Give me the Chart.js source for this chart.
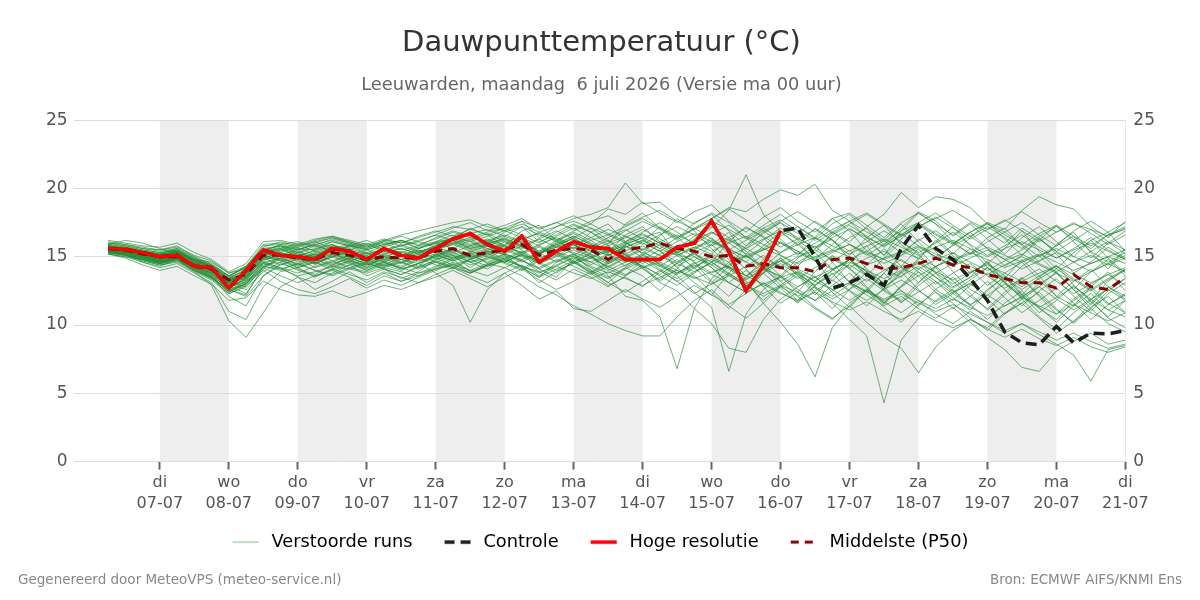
<!DOCTYPE html>
<html>
<head>
<meta charset="utf-8">
<script src="https://cdn.jsdelivr.net/npm/chart.js@4.4.1/dist/chart.umd.min.js"></script>
<style>
body{margin:0;background:#fff;}
</style>
</head>
<body>
<canvas id="plume" width="1200" height="600"></canvas>
<script>
// hours after maandag 6 juli 00:00
const hours = [6,12,18,24,30,36,42,48,54,60,66,72,78,84,90,96,102,108,114,120,126,132,138,144,150,156,162,168,174,180,
  186,192,198,204,210,216,222,228,234,240,246,252,258,264,270,276,282,288,294,300,306,312,318,324,330,336,342,348,354,360];

const dayTicks = [24,48,72,96,120,144,168,192,216,240,264,288,312,336,360];
const dayNames = ["di","wo","do","vr","za","zo","ma","di","wo","do","vr","za","zo","ma","di"];
const dayDates = ["07-07","08-07","09-07","10-07","11-07","12-07","13-07","14-07","15-07","16-07","17-07","18-07","19-07","20-07","21-07"];
const shadedDays = [24,72,120,168,216,264,312];
const yTicks = [0,5,10,15,20,25];

const hiRes = [15.6,15.55,15.3,15.0,15.1,14.3,14.2,12.7,14.0,15.5,15.1,15.0,14.8,15.6,15.4,14.8,15.6,15.1,14.9,15.6,
  16.3,16.7,15.9,15.4,16.5,14.6,15.4,16.1,15.7,15.6,14.8,14.8,14.8,15.7,16.0,17.6,15.4,12.5,14.3,16.9];

const control = [15.6,15.55,15.3,15.0,15.1,14.3,14.2,12.7,14.0,15.5,15.1,15.0,14.8,15.6,15.4,14.8,15.6,15.1,14.9,15.6,
  16.3,16.7,15.9,15.4,16.5,14.6,15.4,16.1,15.7,15.6,14.8,14.8,14.8,15.7,16.0,17.6,15.4,12.5,14.3,16.9,
  17.1,15.0,12.7,13.1,13.7,12.9,15.6,17.3,15.6,14.8,13.4,11.8,9.5,8.7,8.55,9.9,8.7,9.4,9.35,9.6];

const p50 = [15.6,15.5,15.2,15.0,15.0,14.3,14.1,13.3,13.7,15.1,15.1,14.9,14.8,15.3,15.1,14.8,15.0,14.9,14.9,15.4,
  15.6,15.1,15.3,15.5,15.9,15.1,15.5,15.6,15.5,14.8,15.5,15.7,16.0,15.6,15.4,15.0,15.1,14.3,14.5,14.2,
  14.2,13.9,14.8,14.9,14.5,14.1,14.2,14.5,14.9,14.4,14.2,13.7,13.4,13.1,13.1,12.7,13.7,12.8,12.6,13.5];

const members = [
  [15.8,15.6,15.3,15.1,15.4,14.6,14.0,13.2,13.9,15.3,15.6,15.2,15.0,15.8,15.5,15.1,15.6,15.3,15.0,15.8,16.4,16.1,15.6,15.9,16.6,15.2,15.9,16.3,15.4,14.6,15.9,16.4,16.8,15.2,14.7,15.9,16.8,15.1,14.2,15.3,16.1,14.7,13.2,14.5,15.8,14.1,13.5,14.9,16.2,15.1,13.8,14.6,13.1,12.2,13.5,14.4,12.9,11.8,13.2,14.1],
  [15.4,15.2,14.8,14.5,14.9,14.1,13.5,12.4,13.1,14.6,14.2,13.5,13.1,13.8,14.4,13.6,14.1,13.4,13.9,14.8,15.1,14.2,15.0,14.6,15.2,14.1,13.5,14.8,15.6,16.2,15.1,14.3,13.2,14.1,15.5,16.4,15.2,14.1,12.8,13.6,14.9,15.8,14.6,13.1,12.4,13.8,15.1,16.3,15.4,13.9,12.6,11.9,13.4,14.8,13.6,12.1,11.4,12.8,13.9,12.5],
  [16.1,15.9,15.6,15.5,15.8,15.0,14.4,13.6,14.2,15.8,15.9,15.6,15.5,16.1,15.8,15.6,16.0,15.5,15.8,16.4,16.9,16.5,16.0,16.8,17.2,16.1,16.6,17.3,16.8,15.9,17.4,18.2,17.1,16.3,17.5,18.1,16.9,15.8,16.7,17.5,16.2,15.3,16.8,17.6,16.4,15.1,16.9,18.2,17.4,16.1,15.2,16.4,17.1,15.8,14.6,15.9,16.8,15.3,14.1,15.6],
  [15.2,15.0,14.6,14.2,14.5,13.8,13.1,11.0,10.4,12.8,13.9,14.2,13.5,14.1,14.6,14.0,14.5,14.2,13.8,14.3,14.9,15.3,14.5,15.1,14.2,13.5,14.6,15.2,14.0,13.1,14.2,13.6,12.5,13.8,14.6,13.2,12.1,13.5,14.8,13.6,12.4,13.9,15.1,14.2,12.8,11.6,12.9,14.1,13.2,12.0,11.1,12.5,13.6,12.3,11.2,10.4,11.8,12.6,11.5,12.2],
  [15.9,16.2,16.0,15.6,15.3,14.8,14.6,13.8,14.1,15.2,15.4,15.8,16.1,15.6,15.9,15.3,15.8,16.2,15.6,16.1,16.3,17.1,16.6,15.8,16.9,17.3,16.2,15.6,16.8,17.4,16.1,15.2,16.5,17.8,16.9,15.6,14.2,15.8,17.1,16.3,15.1,16.4,17.8,16.9,15.4,16.2,17.4,16.1,14.8,15.9,16.8,15.6,14.3,15.1,16.4,15.2,13.8,14.6,15.7,14.9],
  [15.5,15.3,15.0,14.8,15.2,14.4,13.9,12.9,12.3,14.1,15.1,15.6,14.4,15.2,14.8,14.2,15.1,14.8,14.3,15.2,15.6,14.9,15.4,16.1,15.5,14.6,15.2,15.9,15.1,14.1,13.6,14.8,15.5,14.2,13.1,12.2,13.8,15.1,14.3,12.9,11.8,13.2,14.6,15.5,14.1,13.0,14.3,15.6,14.2,12.8,13.5,14.7,13.2,11.9,12.8,13.9,12.6,11.2,12.5,13.4],
  [15.7,15.5,15.4,15.2,15.6,14.9,14.2,13.4,13.8,15.5,15.8,15.3,15.6,15.9,15.4,15.0,15.4,15.6,15.2,15.9,16.2,15.6,15.9,16.4,15.8,15.1,16.1,16.8,16.2,15.3,16.6,17.2,16.1,15.4,16.3,17.1,18.4,21.0,18.1,16.9,15.8,17.1,16.2,15.1,16.4,17.3,15.9,14.8,16.1,17.2,15.8,14.5,15.6,16.9,15.4,14.1,15.3,16.2,14.9,13.8],
  [15.3,15.4,15.1,14.6,14.9,14.2,13.6,12.1,11.4,13.6,14.5,14.1,13.7,14.4,14.9,14.5,14.2,14.6,14.9,14.4,14.1,14.8,15.3,14.6,14.1,14.9,15.4,14.7,13.8,14.5,15.2,14.1,13.3,14.6,15.3,14.2,13.1,12.4,13.8,14.9,13.6,12.2,13.5,14.8,13.9,12.6,11.8,13.1,14.3,13.2,12.1,11.2,12.4,13.5,12.2,11.1,10.2,11.6,12.8,11.9],
  [16.0,15.8,15.5,15.3,15.5,14.7,14.3,13.5,14.3,15.6,15.2,14.8,15.3,15.7,15.2,14.6,15.3,15.0,15.4,15.6,15.9,16.3,15.4,15.2,15.8,16.3,15.7,16.4,17.1,16.2,15.4,16.1,17.2,16.5,15.2,14.6,16.1,17.2,16.4,15.1,14.3,15.6,16.3,14.8,13.6,14.9,16.1,15.2,13.8,14.5,15.6,14.2,13.1,14.3,15.1,13.8,12.6,13.9,14.8,13.6],
  [15.6,15.7,15.4,15.2,15.1,14.5,14.1,13.0,12.6,13.9,14.6,15.0,14.6,14.2,14.7,15.1,14.6,14.1,14.5,15.0,15.4,14.6,14.9,15.5,16.1,15.3,14.6,15.1,15.8,15.2,14.3,15.1,15.9,15.3,14.1,15.2,16.3,15.4,14.2,13.5,14.6,15.3,14.1,13.2,14.4,15.6,14.3,13.1,14.2,15.3,14.1,12.9,13.8,14.6,13.3,12.1,13.2,14.1,12.8,12.1],
  [15.3,15.1,14.6,14.3,14.8,13.9,12.9,10.3,9.1,10.9,12.8,13.5,12.6,13.2,13.9,13.1,13.8,13.2,13.6,14.2,14.8,13.9,14.4,15.0,14.3,13.1,13.9,14.6,13.8,12.9,13.5,12.8,13.9,14.8,13.6,12.4,11.2,12.6,13.8,12.7,11.6,12.9,13.8,12.5,11.4,12.7,13.9,12.6,11.5,12.3,13.1,11.9,10.8,11.6,12.4,11.2,10.1,11.3,12.1,10.9],
  [16.2,16.0,15.8,15.7,16.0,15.3,14.8,13.9,14.5,16.1,16.2,15.9,16.3,16.5,16.1,15.8,16.2,16.0,16.4,16.8,17.2,17.0,16.6,17.1,17.6,16.4,17.2,17.8,18.1,18.6,20.4,18.9,19.0,18.0,17.4,18.2,17.5,16.4,17.3,18.1,17.2,16.3,17.4,18.1,17.0,15.9,17.1,18.3,17.6,16.5,17.4,16.3,15.2,16.4,17.2,16.1,15.0,16.2,16.8,15.4],
  [15.5,15.3,15.0,14.7,15.0,14.2,13.8,12.8,13.2,14.8,15.0,14.4,14.9,15.3,14.8,14.3,14.9,14.6,14.2,14.8,15.2,14.6,14.1,14.9,15.4,14.5,13.8,14.6,15.2,13.6,12.1,11.8,10.6,6.8,11.2,13.4,14.6,13.1,11.8,12.9,13.8,12.4,11.2,12.6,13.9,12.8,11.6,12.9,13.8,12.5,11.4,12.6,13.5,12.2,10.9,11.8,12.9,11.7,10.6,11.8],
  [15.4,15.2,14.7,14.4,14.6,13.9,13.3,12.3,12.9,14.3,14.1,13.6,13.9,14.3,14.1,13.8,14.2,13.9,13.6,14.1,14.4,14.0,14.5,14.2,13.6,12.8,12.2,11.4,10.8,10.1,9.6,9.2,9.2,10.6,11.8,12.6,11.4,10.5,11.6,12.8,12.1,11.2,10.4,11.6,12.5,11.3,10.2,11.5,12.4,11.6,10.5,9.6,10.8,11.9,10.6,9.7,10.9,11.8,10.5,9.8],
  [15.6,15.4,15.1,14.9,15.3,14.6,14.0,13.1,13.6,15.2,15.3,14.7,15.1,15.6,15.0,14.4,15.0,14.8,14.5,15.1,15.6,15.1,15.5,15.8,15.3,14.5,15.1,15.7,15.0,14.2,14.9,15.5,14.4,13.6,12.4,11.3,6.6,10.8,12.6,13.5,12.6,11.8,12.9,13.8,12.7,11.6,12.8,13.6,12.4,11.2,12.1,13.2,12.0,10.9,11.8,12.7,11.6,10.4,11.5,12.3],
  [15.2,15.0,14.8,14.6,14.9,14.0,13.4,12.6,12.1,13.6,14.4,14.9,14.2,14.6,15.1,14.7,14.3,14.8,15.2,14.6,14.2,14.8,15.2,14.5,14.0,14.7,15.3,14.6,13.9,14.6,15.3,14.2,13.1,12.5,11.2,10.1,8.3,8.0,10.4,11.9,12.8,13.6,12.4,11.3,12.6,13.8,12.5,11.4,12.6,13.5,12.3,11.1,12.2,13.4,12.1,10.8,11.9,12.8,11.6,10.9],
  [15.7,15.5,15.2,15.0,15.2,14.5,14.1,13.2,13.7,15.1,14.8,14.3,14.7,15.1,14.6,14.1,14.7,14.3,14.9,15.4,14.8,15.3,15.8,15.1,14.6,15.3,15.9,15.2,14.4,15.1,15.8,14.9,14.3,15.1,14.2,13.1,14.3,13.2,11.6,10.2,8.6,6.2,9.8,11.4,12.6,11.5,12.8,13.9,12.6,11.8,12.9,13.8,12.6,11.4,12.5,13.4,12.1,11.0,12.3,13.1],
  [15.5,15.6,15.3,15.1,15.3,14.7,14.2,13.3,13.4,14.9,15.3,15.7,15.1,15.4,15.8,15.2,15.5,15.9,15.4,15.7,16.1,15.6,16.0,16.3,15.7,15.2,15.8,16.4,15.6,15.1,15.7,16.2,15.4,14.6,15.3,15.9,14.8,13.6,14.5,13.2,12.1,12.8,11.6,10.4,9.2,4.3,8.9,10.5,11.8,12.6,11.5,10.4,11.6,12.5,11.3,10.2,11.4,12.3,11.1,10.6],
  [15.4,15.3,15.0,14.7,15.0,14.3,13.8,12.9,13.3,14.7,15.2,14.9,14.5,15.0,15.3,14.9,14.4,15.0,15.4,14.9,15.3,14.8,15.2,15.6,15.1,14.8,15.4,15.9,15.2,14.6,15.2,15.8,15.1,14.3,15.0,14.2,13.1,14.0,12.8,11.6,12.4,11.3,10.5,11.4,10.2,9.1,8.3,6.5,8.4,9.6,10.4,9.8,10.9,11.6,10.5,9.4,10.3,11.2,10.1,9.5],
  [15.6,15.4,15.1,14.8,15.1,14.4,14.0,13.0,13.5,15.0,14.7,15.2,14.8,14.4,14.9,15.3,14.8,14.5,15.0,15.4,14.9,15.4,15.0,14.6,15.2,15.7,15.1,14.5,15.0,15.5,14.8,14.2,14.8,15.4,14.6,13.8,14.4,15.1,14.1,13.2,13.9,12.8,12.1,13.0,12.2,11.4,12.1,11.2,10.5,11.3,10.2,9.1,8.2,6.9,6.6,8.1,8.8,9.4,8.6,8.9],
  [15.5,15.3,14.9,14.6,14.9,14.2,13.7,12.7,13.4,14.6,14.9,15.3,14.9,15.2,14.7,14.4,14.8,15.2,14.7,15.0,15.5,14.9,15.3,15.8,15.2,14.7,15.3,15.0,14.6,15.2,14.6,15.2,14.4,13.8,14.5,15.1,14.2,13.4,14.1,13.6,12.8,13.5,12.6,11.8,12.6,11.7,10.9,11.8,10.8,10.1,11.0,10.2,9.4,10.1,9.3,8.6,7.8,5.9,8.2,8.5],
  [15.8,15.7,15.5,15.3,15.5,14.9,14.4,13.5,14.0,15.4,15.6,16.0,15.7,16.1,15.8,15.5,15.9,16.2,15.8,16.1,16.6,16.1,16.5,16.9,16.4,15.8,16.5,17.1,16.4,15.8,16.4,17.0,16.3,15.6,16.5,17.2,16.4,15.6,16.8,17.5,16.7,17.6,16.8,16.1,17.2,18.1,19.7,18.6,19.4,19.2,18.6,17.4,16.8,17.5,16.6,15.8,16.9,17.6,16.8,17.5],
  [15.6,15.5,15.3,15.1,15.4,14.8,14.3,13.4,14.0,15.3,15.5,15.1,15.4,15.8,15.6,15.2,15.6,15.3,15.7,16.0,16.3,15.8,16.2,16.6,16.1,15.4,16.2,16.7,16.0,15.5,16.1,16.7,16.0,15.3,16.1,16.8,16.0,15.2,16.2,17.1,16.4,15.6,16.6,17.3,16.5,15.7,16.6,17.4,16.6,15.9,16.8,17.5,17.0,18.4,19.4,18.8,18.5,17.2,16.4,17.6],
  [15.7,15.6,15.4,15.2,15.5,14.8,14.4,13.6,14.2,15.6,15.8,15.5,15.9,16.2,15.9,15.5,15.9,16.2,15.9,16.3,16.8,16.4,16.8,17.1,16.6,16.0,16.8,17.4,16.8,16.1,16.9,17.6,17.0,16.2,17.1,17.8,18.6,18.3,19.2,19.9,19.5,20.3,18.4,17.6,18.2,17.4,16.6,17.5,18.2,17.3,16.5,17.2,16.4,15.6,16.5,17.2,16.3,15.6,16.6,17.0],
  [16.0,15.9,15.7,15.5,15.7,15.1,14.7,13.8,14.3,15.9,16.0,15.7,16.1,16.4,16.1,15.7,16.1,16.5,16.1,16.6,17.1,17.5,16.9,17.3,17.8,17.0,17.5,18.0,17.4,18.5,18.1,19.0,18.2,17.5,18.3,18.8,17.6,16.8,17.9,18.6,17.6,16.8,17.8,18.2,17.3,16.4,17.5,18.2,17.4,16.6,17.5,16.8,16.0,17.1,16.3,15.4,16.2,17.0,16.1,15.5],
  [15.3,15.1,14.8,14.5,14.7,14.0,13.4,12.3,12.8,14.2,13.6,13.1,13.6,14.0,13.5,12.9,13.6,13.2,13.8,14.1,14.6,14.0,13.6,14.2,14.8,13.9,13.3,14.1,13.5,12.8,13.6,14.4,13.6,12.9,13.8,14.6,13.7,12.8,13.9,14.7,13.8,12.9,14.0,14.8,13.7,12.6,13.8,14.6,13.5,12.4,13.3,14.2,13.1,12.0,13.0,13.8,12.6,11.5,12.7,13.4],
  [15.9,15.7,15.4,15.1,15.3,14.7,14.3,13.3,13.9,15.4,15.9,16.1,15.8,16.3,16.0,15.6,16.1,15.8,16.2,16.6,16.2,16.7,17.0,16.5,17.2,16.6,16.2,16.9,17.4,16.7,16.1,16.8,17.5,16.8,15.9,16.7,17.3,16.4,15.6,16.5,17.2,16.4,15.5,16.4,17.1,16.2,15.3,16.2,16.9,16.0,15.2,16.1,16.8,15.9,15.0,15.8,16.5,15.4,14.6,15.3],
  [15.4,15.2,14.9,14.7,14.9,14.3,13.7,12.6,12.2,14.3,14.8,14.2,14.6,14.0,14.4,14.8,14.3,14.6,14.1,14.6,15.0,14.4,14.8,15.2,14.7,14.2,14.8,14.3,13.7,14.3,14.9,14.3,13.7,14.5,15.2,14.4,13.6,14.3,15.1,14.2,13.4,14.2,15.0,14.1,13.2,14.0,14.8,13.9,13.0,13.8,14.5,13.6,12.7,13.4,14.1,13.2,12.3,13.0,13.7,12.9],
  [15.6,15.5,15.2,14.9,15.2,14.5,14.0,13.1,13.6,15.3,15.1,15.5,15.9,15.4,15.7,16.0,15.5,15.8,16.1,15.7,16.0,16.4,16.0,15.6,16.2,16.8,16.3,15.8,16.4,17.0,16.5,15.9,16.6,17.2,16.6,15.8,16.4,17.1,16.5,15.7,16.3,17.0,16.2,15.4,16.1,16.9,16.1,15.3,16.0,16.8,15.9,15.1,15.8,16.6,15.7,14.9,15.6,16.4,15.5,14.8],
  [15.2,14.9,14.4,14.0,14.3,13.6,13.0,11.8,12.0,13.2,12.6,12.2,12.1,12.5,12.0,12.4,12.9,12.6,13.1,13.5,14.0,13.4,12.8,13.5,14.1,13.3,12.6,13.2,13.9,13.1,12.4,13.2,14.0,13.2,12.3,13.0,13.8,12.9,12.1,12.8,13.6,12.7,11.9,12.6,13.4,12.5,11.7,12.4,13.2,12.3,11.5,12.2,13.0,12.1,11.3,12.0,12.8,11.9,11.1,11.8],
  [15.5,15.3,15.0,14.7,15.0,14.3,13.8,12.8,13.3,14.6,14.2,13.8,14.3,14.7,14.2,13.9,14.4,14.0,14.5,13.8,12.9,10.2,12.6,13.8,14.4,13.6,14.3,15.0,14.2,13.5,14.2,14.9,14.1,13.4,14.2,15.0,14.1,13.3,14.1,14.9,14.0,13.2,14.0,14.8,13.9,13.1,13.9,14.7,13.8,13.0,13.8,14.5,13.6,12.8,13.6,14.3,13.4,12.6,13.4,14.1],
  [15.8,15.6,15.4,15.2,15.4,14.8,14.3,13.4,13.6,15.0,15.5,15.9,15.4,15.0,15.5,15.9,15.4,15.1,15.6,16.0,15.6,16.2,16.7,16.1,15.6,16.3,16.9,16.3,15.7,16.4,17.0,16.3,15.6,16.4,17.1,16.3,15.5,16.2,16.9,16.0,15.2,16.0,16.8,15.9,15.1,15.9,16.7,15.8,15.0,15.8,16.5,15.6,14.8,15.5,16.3,15.4,14.6,15.4,16.1,15.2],
  [15.3,15.1,14.7,14.4,14.7,14.0,13.5,12.5,13.0,14.4,14.6,14.0,13.6,14.1,13.7,13.3,13.9,13.5,13.1,13.7,14.2,13.6,13.1,13.8,12.9,11.9,12.5,11.2,11.0,11.8,12.6,11.9,11.3,12.1,12.9,12.2,11.5,12.3,13.1,12.4,11.7,12.5,13.3,12.5,11.8,12.6,13.3,12.5,11.7,12.4,13.0,12.2,11.4,12.1,12.8,11.9,11.1,11.9,12.6,11.8],
  [15.9,15.8,15.6,15.4,15.6,15.0,14.5,13.6,14.3,15.7,16.1,15.8,16.2,16.5,16.2,15.9,16.3,16.0,16.5,16.9,16.5,17.0,17.4,16.9,17.6,17.1,17.5,17.0,17.6,18.0,17.3,17.9,18.4,17.6,17.0,17.8,18.5,17.7,16.9,17.6,18.3,17.5,16.7,17.4,18.1,17.3,16.5,17.2,17.9,17.1,16.3,17.0,17.7,16.9,16.1,16.8,17.5,16.7,15.9,16.6],
  [15.5,15.4,15.1,14.8,15.1,14.4,13.9,13.0,13.7,15.1,15.3,14.9,14.5,15.0,15.4,15.0,14.6,15.1,15.5,15.1,14.7,15.2,15.6,15.2,14.8,15.3,15.7,15.3,14.9,15.4,15.8,15.3,14.8,15.3,15.7,15.2,14.6,15.1,15.6,15.1,14.5,15.0,15.5,15.0,14.4,14.9,15.4,14.9,14.3,14.8,15.3,14.8,14.2,14.7,15.2,14.6,14.0,14.5,15.0,14.5],
  [15.4,15.2,14.9,14.6,14.9,14.2,13.6,12.4,13.0,14.5,14.1,14.5,14.0,13.6,14.1,14.5,14.1,13.7,14.2,14.6,14.2,13.8,14.3,14.7,14.3,13.9,14.3,13.8,13.4,13.9,13.4,12.9,13.5,14.0,13.5,13.0,13.6,12.9,12.3,12.9,12.4,11.8,12.5,13.1,12.5,11.9,12.5,11.8,11.2,11.9,11.3,10.7,11.4,12.0,11.4,10.8,11.5,10.9,10.3,10.9],
  [15.6,15.4,15.1,14.9,15.2,14.5,14.1,13.2,13.8,15.2,15.0,15.4,15.0,15.5,15.1,14.7,15.2,15.6,15.2,15.6,16.0,15.5,15.9,16.3,15.8,15.3,15.9,16.5,15.9,15.4,16.0,16.6,16.0,15.5,16.2,16.8,16.2,15.6,16.3,16.9,16.3,15.7,16.4,17.0,16.4,15.8,16.5,17.2,17.8,18.4,17.6,17.0,17.6,18.3,17.5,16.8,17.4,17.0,16.5,17.1],
  [15.7,15.5,15.3,15.0,15.3,14.6,14.2,13.1,12.8,14.2,14.9,14.5,15.0,15.4,14.9,14.5,15.0,15.4,15.0,15.5,15.1,14.6,15.1,15.5,15.0,14.5,15.0,15.5,15.0,14.5,15.0,15.6,15.1,14.5,13.9,14.6,15.2,14.6,14.0,14.7,15.3,14.7,14.1,14.8,15.4,14.8,14.2,13.6,14.3,14.9,14.3,13.7,14.4,15.0,14.4,13.8,13.2,13.9,14.5,13.9],
  [15.3,15.2,14.8,14.5,14.8,14.1,13.6,12.7,13.5,14.9,14.4,14.8,15.2,14.7,15.1,15.5,15.0,14.6,15.1,15.5,15.9,15.4,15.8,16.2,15.7,15.2,15.7,16.1,15.6,15.1,15.7,16.2,15.6,15.1,15.6,16.1,15.5,15.0,15.5,16.0,15.4,14.9,15.4,15.9,15.3,14.8,15.3,15.8,15.2,14.7,15.2,15.7,15.1,14.6,15.1,15.6,15.0,14.5,15.0,15.5],
  [15.5,15.3,15.0,14.7,15.0,14.3,13.8,12.8,13.1,14.5,14.9,14.4,14.8,14.3,14.7,14.2,14.6,14.1,14.5,14.9,14.4,14.8,14.3,14.7,15.1,14.6,14.0,14.5,14.9,14.3,13.7,14.2,14.6,14.0,13.4,13.9,14.3,13.6,13.0,13.5,13.9,13.2,12.6,13.1,12.4,11.8,12.3,11.6,11.0,11.5,10.8,10.2,9.6,10.1,9.5,8.9,9.4,8.8,8.3,8.6],
  [15.4,15.2,14.9,14.6,14.8,14.1,13.5,12.5,13.2,14.0,13.2,12.6,12.3,12.8,13.4,12.7,13.3,12.9,13.5,14.0,14.5,13.8,14.4,14.9,14.2,13.5,14.1,14.7,14.0,13.4,14.1,14.7,14.0,13.2,13.9,14.6,13.8,13.0,13.8,14.5,13.7,12.9,13.7,14.4,13.6,12.8,13.6,14.3,13.5,12.7,13.5,14.2,13.4,12.6,13.4,14.1,13.3,12.5,13.3,14.0],
  [15.8,15.6,15.3,15.1,15.4,14.7,14.2,13.4,14.1,15.5,15.8,15.5,16.0,16.4,16.0,15.7,16.2,16.6,16.9,17.2,17.5,17.7,17.2,16.9,17.4,16.8,17.2,17.6,17.1,16.6,17.2,17.8,17.1,16.4,17.0,17.6,17.0,16.3,17.1,17.7,16.9,16.2,17.0,17.6,16.8,16.1,16.9,17.5,16.7,16.0,16.8,17.4,16.6,15.9,16.7,17.3,16.5,15.8,16.6,17.2],
  [15.5,15.4,15.0,14.8,15.0,14.4,13.9,13.2,13.5,14.8,15.2,14.6,15.0,14.5,14.9,15.3,14.7,15.2,14.6,15.1,15.5,15.0,15.4,14.8,15.3,15.8,15.2,14.6,15.3,15.8,15.1,14.5,15.2,15.7,15.0,14.4,15.1,15.6,14.9,14.3,15.0,15.5,14.8,14.2,14.9,15.4,14.7,14.1,14.8,15.3,14.6,14.0,14.7,15.2,14.5,13.9,14.6,15.1,14.4,14.9],
  [15.6,15.5,15.2,14.9,15.2,14.5,14.0,13.1,13.7,15.1,14.7,14.2,14.6,15.0,14.5,14.0,14.6,14.2,14.8,15.2,14.7,15.1,14.6,15.2,14.7,14.1,14.7,15.2,14.6,14.0,14.6,15.1,14.5,13.8,14.4,13.7,13.1,12.4,13.0,12.3,11.8,12.4,11.7,11.1,11.7,11.0,10.4,11.0,10.3,9.8,10.4,9.7,9.1,9.7,9.0,8.5,9.1,8.4,8.0,8.4],
  [15.7,15.6,15.3,15.0,15.3,14.6,14.2,13.2,13.9,15.3,15.6,15.0,15.5,15.9,15.3,14.8,15.4,15.8,15.3,15.8,16.2,15.7,16.1,16.5,16.0,15.4,16.0,16.5,15.9,15.3,15.9,16.4,15.8,15.1,15.7,16.2,15.6,14.9,15.5,16.1,15.4,14.7,15.3,15.9,15.2,14.5,15.1,15.7,15.0,14.3,14.9,15.5,14.8,14.1,14.7,15.3,14.6,13.9,14.5,15.1],
  [15.5,15.4,15.1,14.9,15.1,14.5,14.0,13.1,13.4,14.9,15.3,14.8,15.2,15.6,15.1,14.6,15.2,14.8,15.3,15.7,15.3,15.8,16.2,15.7,15.3,15.9,16.4,15.9,15.4,16.0,16.5,16.0,15.4,16.1,16.7,16.1,15.5,14.6,15.8,16.8,15.9,14.8,15.9,17.1,16.2,15.1,16.3,17.4,16.4,15.2,16.4,17.5,16.3,15.1,16.2,17.3,16.1,14.9,16.0,16.9],
  [15.3,15.1,14.8,14.5,14.8,14.0,13.5,12.6,13.0,14.3,14.0,14.5,14.0,13.7,14.2,14.6,14.1,13.7,14.3,14.7,14.3,13.8,14.4,14.8,14.3,13.8,14.4,14.9,14.3,13.8,14.4,14.9,14.3,13.7,14.3,14.8,14.2,13.6,14.2,14.7,14.1,13.5,14.1,14.6,14.0,13.4,14.0,14.5,13.9,13.3,13.9,14.4,13.8,13.2,13.8,14.3,13.7,13.1,13.7,14.2],
  [15.8,15.6,15.4,15.1,15.4,14.8,14.3,13.3,13.8,15.4,15.7,15.3,15.8,15.4,15.8,16.2,15.7,16.1,15.6,16.0,16.4,15.9,16.3,15.8,16.3,16.7,16.1,15.6,16.2,16.6,16.0,15.5,16.1,16.6,16.0,15.4,16.0,16.5,15.9,15.3,15.9,16.4,15.8,15.2,15.8,16.3,15.7,15.1,15.7,16.2,15.6,15.0,15.6,16.1,15.5,14.9,15.5,16.0,15.4,14.8]
];

const memberColor = "rgba(30,140,50,0.65)";

function pts(vals){
    return vals.map((v,i) => ({x: hours[i], y: v}));
}

// legend sample: 22px spacing, then a 26px line
function sample(color, width, dash){
    const c = document.createElement("canvas");
    c.width = 52;
    c.height = 8;
    const g = c.getContext("2d");
    g.strokeStyle = color;
    g.lineWidth = width;
    g.setLineDash(dash);
    g.beginPath();
    g.moveTo(22,4);
    g.lineTo(48,4);
    g.stroke();
    return c;
}

const legendItems = [
    {text:"Verstoorde runs", pointStyle:sample("rgba(60,160,80,0.7)",1,[])},
    {text:"Controle", pointStyle:sample("#1e1e1e",3.5,[10,6])},
    {text:"Hoge resolutie", pointStyle:sample("#ff0000",3.5,[])},
    {text:"Middelste (P50)", pointStyle:sample("#8b0000",3,[8,6])}
];

const datasets = [
    {label:"Hoge resolutie", data:pts(hiRes), borderColor:"#ff0000", borderWidth:3.5, order:0},
    {label:"Controle", data:pts(control), borderColor:"#1e1e1e", borderWidth:3.5, borderDash:[11,6], order:1},
    {label:"Middelste (P50)", data:pts(p50), borderColor:"#8b0000", borderWidth:3, borderDash:[9,6], order:2}
];
members.forEach(m => {
    datasets.push({label:"Verstoorde runs", data:pts(m), borderColor:memberColor, borderWidth:1, order:3});
});

const dayShading = {
    id:"dayShading",
    beforeDraw(chart){
        const {ctx, chartArea, scales} = chart;
        ctx.save();
        ctx.fillStyle = "#eeeeee";
        shadedDays.forEach(d => {
            const x0 = scales.x.getPixelForValue(d);
            const x1 = scales.x.getPixelForValue(d + 24);
            ctx.fillRect(x0, chartArea.top, x1 - x0, chartArea.bottom - chartArea.top);
        });
        ctx.restore();
    }
};

// keep the legend row centred on its visible part
const legendShift = {
    id:"legendShift",
    afterLayout(chart){
        chart.legend.left -= 12;
        chart.legend.right -= 12;
    }
};

const footer = {
    id:"footer",
    afterDraw(chart){
        const ctx = chart.ctx;
        ctx.save();
        ctx.font = "13.5px 'DejaVu Sans'";
        ctx.fillStyle = "#888888";
        ctx.textBaseline = "middle";
        ctx.textAlign = "left";
        ctx.fillText("Gegenereerd door MeteoVPS (meteo-service.nl)", 18, 580);
        ctx.textAlign = "right";
        ctx.fillText("Bron: ECMWF AIFS/KNMI Ens", 1182, 580);
        ctx.restore();
    }
};

Chart.defaults.font.family = "'DejaVu Sans', sans-serif";

new Chart(document.getElementById("plume"), {
    type:"line",
    data:{datasets},
    plugins:[dayShading, legendShift, footer],
    options:{
        responsive:false,
        animation:false,
        devicePixelRatio:1,
        layout:{padding:{left:40, right:37, top:0, bottom:39}},
        elements:{point:{radius:0}, line:{tension:0}},
        plugins:{
            title:{
                display:true,
                text:"Dauwpunttemperatuur (°C)",
                color:"#333333",
                font:{size:29, weight:"normal"},
                padding:{top:26, bottom:7}
            },
            subtitle:{
                display:true,
                text:"Leeuwarden, maandag  6 juli 2026 (Versie ma 00 uur)",
                color:"#666666",
                font:{size:17.8},
                padding:{top:7, bottom:24}
            },
            legend:{
                position:"bottom",
                onClick:null,
                labels:{
                    usePointStyle:true,
                    pointStyleWidth:52,
                    color:"#111111",
                    font:{size:17.8},
                    padding:10,
                    generateLabels:() => legendItems.map((it,i) => ({
                        text:it.text,
                        pointStyle:it.pointStyle,
                        fillStyle:"transparent",
                        strokeStyle:"transparent",
                        lineWidth:0,
                        hidden:false,
                        datasetIndex:i
                    }))
                }
            },
            tooltip:{enabled:false}
        },
        scales:{
            x:{
                type:"linear",
                min:-6,
                max:360,
                afterBuildTicks(scale){
                    scale.ticks = dayTicks.map(v => ({value:v}));
                },
                afterFit(scale){
                    scale.height += 6;
                },
                ticks:{
                    autoSkip:false,
                    maxRotation:0,
                    color:"#555555",
                    font:{size:16, lineHeight:1.3},
                    padding:3,
                    callback(v){
                        const i = dayTicks.indexOf(v);
                        return i < 0 ? "" : [dayNames[i], dayDates[i]];
                    }
                },
                grid:{
                    drawOnChartArea:false,
                    drawTicks:true,
                    tickLength:8,
                    tickColor:"#666666",
                    tickWidth:2
                },
                border:{display:false}
            },
            y:{
                position:"left",
                min:0,
                max:25,
                afterBuildTicks(scale){
                    scale.ticks = yTicks.map(v => ({value:v}));
                },
                ticks:{color:"#555555", font:{size:17}, padding:6},
                grid:{color:"#dddddd", drawTicks:false},
                border:{display:false}
            },
            y2:{
                position:"right",
                min:0,
                max:25,
                afterBuildTicks(scale){
                    scale.ticks = yTicks.map(v => ({value:v}));
                },
                ticks:{color:"#555555", font:{size:17}, padding:8},
                grid:{drawOnChartArea:false, drawTicks:false},
                border:{color:"#e8e8e8"}
            }
        }
    }
});
</script>
</body>
</html>
